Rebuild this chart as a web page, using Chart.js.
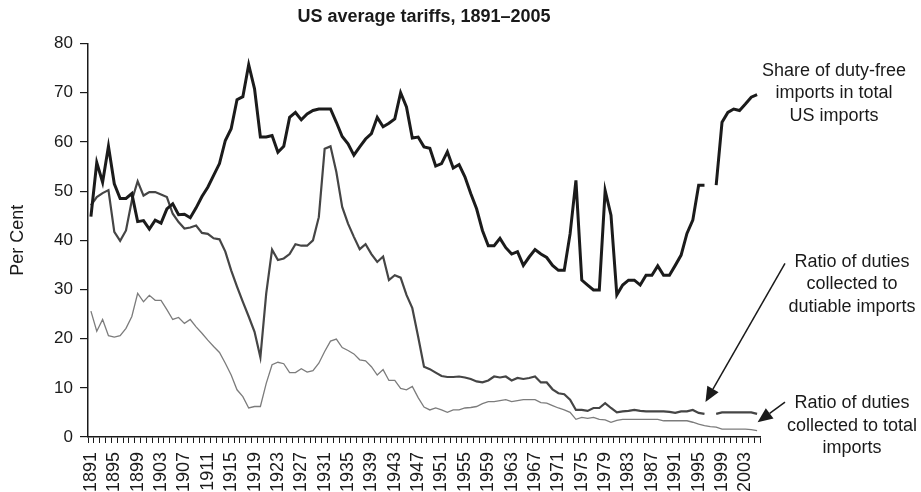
<!DOCTYPE html>
<html lang="en">
<head>
<meta charset="UTF-8">
<title>US average tariffs, 1891–2005</title>
<style>
    * { margin: 0; padding: 0; box-sizing: border-box; }
    body { background: #ffffff; width: 921px; height: 492px; overflow: hidden; }
    #wrap { width: 921px; height: 492px; }
</style>
</head>
<body>
<div id="wrap"><canvas id="tariffChart" width="921" height="492"></canvas></div>

<script src="https://cdn.jsdelivr.net/npm/chart.js@4"></script>
<script>
    // categories: one per year, 1891..2005
    const years = [];
    for (let y = 1891; y <= 2005; y++) years.push(String(y));

    // Share of duty-free imports in total US imports (%)
    const dutyFreeShare = [
        44.8, 55.8, 51.8, 59.1, 51.5, 48.5, 48.5, 49.5, 43.8, 44.0,
        42.3, 44.1, 43.5, 46.4, 47.4, 45.2, 45.3, 44.6, 46.6, 48.9,
        50.8, 53.2, 55.6, 60.3, 62.7, 68.6, 69.2, 75.7, 70.8, 61.0,
        61.0, 61.3, 57.9, 59.1, 65.0, 66.0, 64.5, 65.7, 66.4, 66.7,
        66.7, 66.7, 64.0, 61.1, 59.6, 57.3, 59.0, 60.6, 61.7, 65.0,
        63.1, 63.8, 64.7, 70.0, 67.1, 60.8, 61.0, 59.0, 58.7, 55.1,
        55.6, 58.0, 54.7, 55.4, 52.9, 49.5, 46.4, 42.0, 38.9, 38.9,
        40.4, 38.5, 37.2, 37.7, 34.9, 36.6, 38.1, 37.2, 36.5, 34.9,
        33.9, 33.9, 41.3, 52.2, 31.9, 30.9, 29.9, 29.9, 50.1, 45.1,
        28.9, 30.9, 31.9, 31.9, 30.9, 32.9, 32.9, 34.8, 32.9, 32.9,
        34.9, 37.0, 41.4, 44.1, 51.2, 51.2, null, 51.2, 64.0, 66.0,
        66.7, 66.4, 67.7, 69.1, 69.6
    ];

    // Ratio of duties collected to dutiable imports (%)
    const dutiableRatio = [
        47.1, 48.8, 49.6, 50.2, 41.7, 39.9, 42.0, 48.1, 52.0, 49.1,
        49.8, 49.8, 49.3, 48.8, 45.4, 43.7, 42.4, 42.6, 43.0, 41.5,
        41.3, 40.4, 40.2, 37.7, 33.9, 30.6, 27.5, 24.5, 21.4, 16.2,
        29.2, 38.1, 36.0, 36.3, 37.2, 39.2, 38.9, 38.9, 40.0, 44.7,
        58.6, 59.1, 53.9, 46.8, 43.4, 40.7, 38.2, 39.2, 37.2, 35.6,
        36.7, 31.9, 32.9, 32.4, 28.9, 26.2, 20.4, 14.3, 13.8, 13.1,
        12.4, 12.2, 12.2, 12.3, 12.1, 11.8, 11.3, 11.1, 11.5, 12.3,
        12.1, 12.3, 11.5, 12.0, 11.8, 12.0, 12.3, 11.1, 11.1, 9.7,
        8.9, 8.7, 7.6, 5.5, 5.5, 5.3, 5.9, 5.9, 6.9, 5.9,
        5.0, 5.2, 5.3, 5.5, 5.3, 5.2, 5.2, 5.2, 5.2, 5.1,
        4.9, 5.2, 5.2, 5.5, 4.9, 4.7, null, 4.7, 5.0, 5.0,
        5.0, 5.0, 5.0, 5.0, 4.7
    ];

    // Ratio of duties collected to total imports (%)
    const totalRatio = [
        25.6, 21.5, 23.9, 20.6, 20.3, 20.6, 22.1, 24.5, 29.2, 27.5,
        28.8, 27.8, 27.8, 25.9, 23.9, 24.3, 23.1, 23.9, 22.4, 21.1,
        19.7, 18.4, 17.2, 15.0, 12.6, 9.6, 8.2, 5.9, 6.2, 6.2,
        10.9, 14.7, 15.2, 14.9, 13.1, 13.1, 13.9, 13.2, 13.5, 15.0,
        17.4, 19.5, 19.9, 18.2, 17.6, 16.9, 15.7, 15.5, 14.3, 12.6,
        13.7, 11.5, 11.5, 9.9, 9.6, 10.3, 8.0, 6.1, 5.5, 5.9,
        5.5, 5.0, 5.5, 5.5, 5.9, 6.0, 6.2, 6.8, 7.2, 7.2,
        7.4, 7.6, 7.2, 7.4, 7.6, 7.6, 7.6, 7.0, 6.9, 6.4,
        5.9, 5.5, 5.0, 3.6, 4.0, 3.8, 4.0, 3.6, 3.5, 3.0,
        3.4, 3.6, 3.6, 3.6, 3.6, 3.6, 3.6, 3.6, 3.3, 3.3,
        3.3, 3.3, 3.3, 3.0, 2.6, 2.3, 2.1, 2.0, 1.6, 1.6,
        1.6, 1.6, 1.6, 1.5, 1.3
    ];

    const yTicks = [0, 10, 20, 30, 40, 50, 60, 70, 80];

    const FONT = "'Liberation Sans', Arial, sans-serif";
    const INK = '#1a1a1a';

    // annotation labels drawn right of the plot
    const annotations = [
        { lines: ['Share of duty-free', 'imports in total', 'US imports'], dx: 74, value: 74.5 },
        { lines: ['Ratio of duties', 'collected to', 'dutiable imports'], dx: 92, value: 35.6 },
        { lines: ['Ratio of duties', 'collected to total', 'imports'], dx: 92, value: 6.9 }
    ];

    function arrow(ctx, x1, y1, x2, y2) {
        const ang = Math.atan2(y2 - y1, x2 - x1);
        const len = 15, half = 6.5;
        const bx = x2 - len * Math.cos(ang), by = y2 - len * Math.sin(ang);
        ctx.beginPath();
        ctx.moveTo(x1, y1);
        ctx.lineTo(bx, by);
        ctx.stroke();
        ctx.beginPath();
        ctx.moveTo(x2, y2);
        ctx.lineTo(bx + half * Math.sin(ang), by - half * Math.cos(ang));
        ctx.lineTo(bx - half * Math.sin(ang), by + half * Math.cos(ang));
        ctx.closePath();
        ctx.fill();
    }

    const notePlugin = {
        id: 'notes',
        afterDraw(chart) {
            const ctx = chart.ctx;
            const xs = chart.scales.x, ys = chart.scales.y;
            const right = chart.chartArea.right;
            ctx.save();
            ctx.fillStyle = INK;
            ctx.strokeStyle = INK;
            ctx.font = '18px ' + FONT;
            ctx.textAlign = 'center';
            ctx.textBaseline = 'middle';
            annotations.forEach(a => {
                const y0 = ys.getPixelForValue(a.value);
                a.lines.forEach((t, i) => ctx.fillText(t, right + a.dx, y0 + i * 22.5));
            });
            ctx.lineWidth = 1.5;
            // arrow to the dutiable series near 1996
            const i96 = years.indexOf('1996'), i05 = years.indexOf('2005');
            arrow(ctx, right + 25, ys.getPixelForValue(35.3),
                  xs.getPixelForValue(i96) + 1, ys.getPixelForValue(dutiableRatio[i96] + 2.4));
            // arrow to the end of the total series
            arrow(ctx, right + 25, ys.getPixelForValue(7.1),
                  xs.getPixelForValue(i05) + 0.5, ys.getPixelForValue(totalRatio[i05] + 1.7));
            ctx.restore();
        }
    };

    new Chart(document.getElementById('tariffChart'), {
        type: 'line',
        data: {
            labels: years,
            datasets: [
                { label: 'Share of duty-free imports in total US imports', data: dutyFreeShare,
                  borderColor: '#1b1b1b', borderWidth: 3 },
                { label: 'Ratio of duties collected to dutiable imports', data: dutiableRatio,
                  borderColor: '#454545', borderWidth: 2.2 },
                { label: 'Ratio of duties collected to total imports', data: totalRatio,
                  borderColor: '#7c7c7c', borderWidth: 1.3 }
            ]
        },
        options: {
            responsive: false,
            animation: false,
            devicePixelRatio: 1,
            spanGaps: false,
            elements: {
                point: { radius: 0, hoverRadius: 0 },
                line: { tension: 0, borderJoinStyle: 'miter', fill: false }
            },
            layout: { padding: { top: 0, right: 161, bottom: 0, left: 0 } },
            plugins: {
                legend: { display: false },
                tooltip: { enabled: false },
                title: {
                    display: true,
                    fullSize: false,
                    text: 'US average tariffs, 1891–2005',
                    color: INK,
                    font: { family: FONT, size: 18, weight: 'bold' },
                    padding: { top: 6, bottom: 16 }
                }
            },
            scales: {
                x: {
                    type: 'category',
                    offset: true,
                    afterFit(scale) { scale.height = 55; },
                    grid: { offset: true, drawOnChartArea: false, tickLength: 6, color: INK, lineWidth: 1 },
                    border: { color: INK, width: 1.5 },
                    ticks: {
                        autoSkip: false,
                        minRotation: 90,
                        maxRotation: 90,
                        padding: 9,
                        color: INK,
                        font: { family: FONT, size: 18 },
                        callback(val, idx) { return idx % 4 === 0 ? years[idx] : ''; }
                    }
                },
                y: {
                    min: 0,
                    max: 80,
                    afterFit(scale) { scale.width = 88; },
                    afterBuildTicks(scale) { scale.ticks = yTicks.map(v => ({ value: v })); },
                    grid: { drawOnChartArea: false, tickLength: 8, color: INK, lineWidth: 1.2 },
                    border: { color: INK, width: 1.5 },
                    ticks: { padding: 7, color: INK, font: { family: FONT, size: 17 } },
                    title: {
                        display: true,
                        text: 'Per Cent',
                        color: INK,
                        font: { family: FONT, size: 18 },
                        padding: { top: 7, bottom: 0 }
                    }
                }
            }
        },
        plugins: [notePlugin]
    });
</script>
</body>
</html>
